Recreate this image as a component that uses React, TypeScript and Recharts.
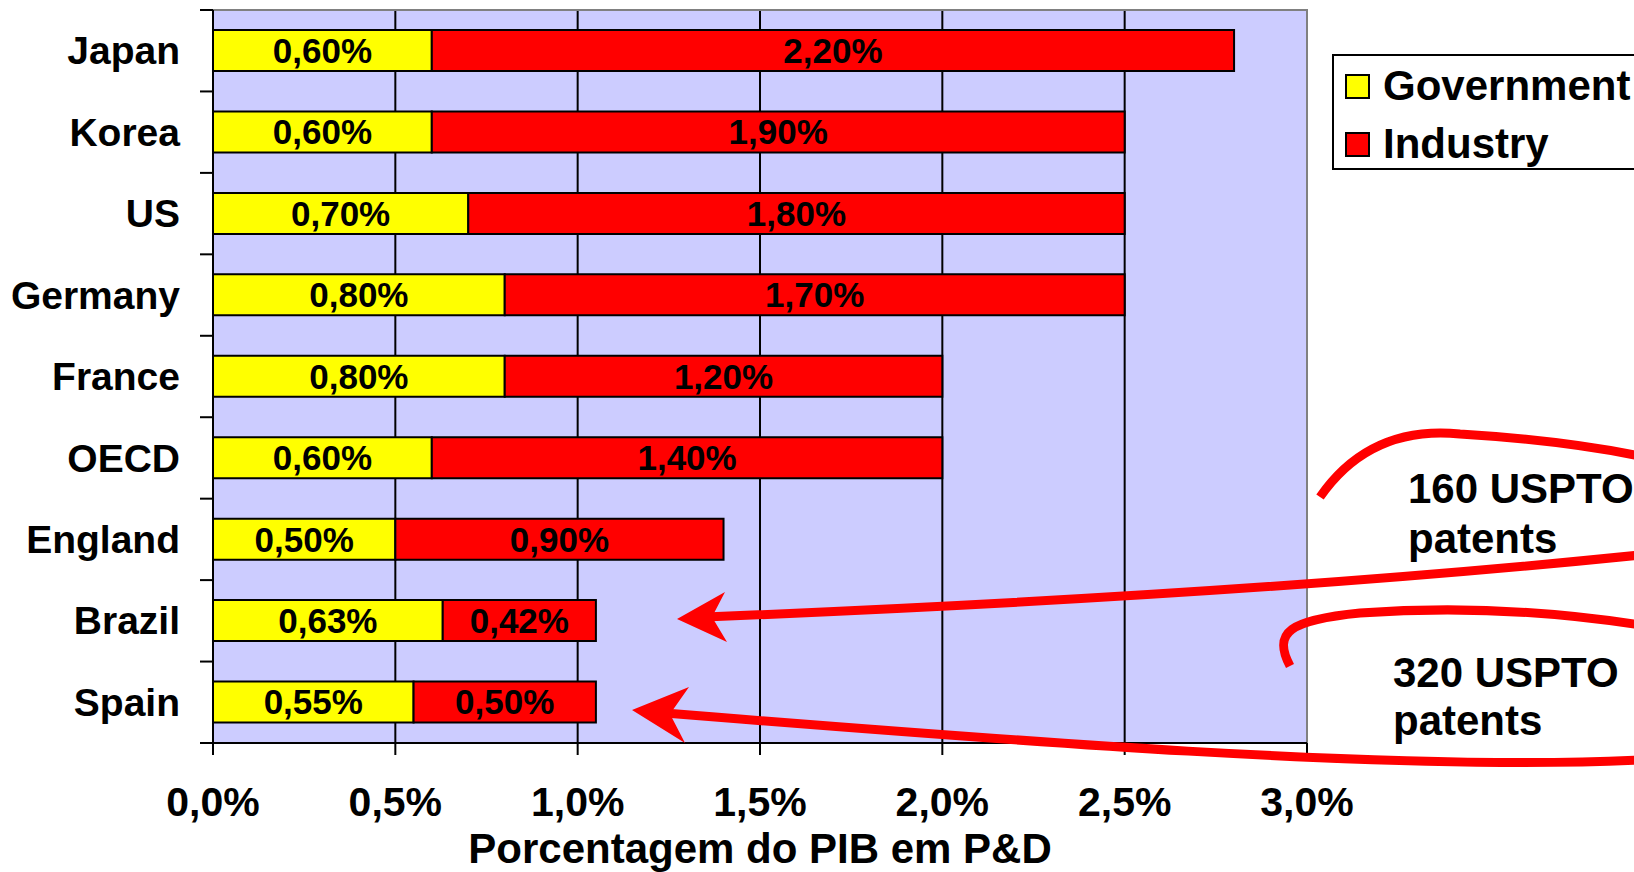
import React from 'react';
import { BarChart, Bar, XAxis, YAxis, CartesianGrid, Legend, LabelList, Label, ReferenceArea } from 'recharts';

const countries = ['Japan', 'Korea', 'US', 'Germany', 'France', 'OECD', 'England', 'Brazil', 'Spain'];
const government = [0.6, 0.6, 0.7, 0.8, 0.8, 0.6, 0.5, 0.63, 0.55];
const industry = [2.2, 1.9, 1.8, 1.7, 1.2, 1.4, 0.9, 0.42, 0.5];
const xTicks = [0, 0.5, 1, 1.5, 2, 2.5, 3];

const data = countries.map((country, i) => ({
  country,
  Government: government[i],
  Industry: industry[i],
}));

const FONT = "'Liberation Sans', Arial, sans-serif";
const TICK_LEN = 13;
const TICK_GAP = 20;

const pct2 = (v: number) => v.toFixed(2).replace('.', ',') + '%';
const pct1 = (v: number) => v.toFixed(1).replace('.', ',') + '%';

// category labels sit at band centres, tick marks at band boundaries (Excel style)
const CountryTick = (props: any) => {
  const { x, y, payload, index } = props;
  const half = payload.offset ?? 0;
  const axisX = x + TICK_GAP + TICK_LEN;
  const last = index === countries.length - 1;
  return (
    <g>
      <line x1={axisX - TICK_LEN} x2={axisX} y1={y - half} y2={y - half} stroke="#000" strokeWidth={2} />
      {last && <line x1={axisX - TICK_LEN} x2={axisX} y1={y + half} y2={y + half} stroke="#000" strokeWidth={2} />}
      <text x={x} y={y} dy="0.35em" textAnchor="end" fill="#000" fontSize={39} fontWeight="bold" fontFamily={FONT}>
        {payload.value}
      </text>
    </g>
  );
};

const LegendBox = (props: any) => {
  const { payload = [] } = props;
  return (
    <div
      style={{
        border: '2px solid #000',
        background: '#fff',
        height: 116,
        boxSizing: 'border-box',
        paddingRight: 40,
        fontFamily: FONT,
      }}
    >
      {payload.map((p: any) => (
        <div key={p.value} style={{ display: 'flex', alignItems: 'center', height: 58, marginTop: p.value === 'Government' ? 1 : 0 }}>
          <div style={{ width: 25, height: 25, boxSizing: 'border-box', border: '2px solid #000', background: p.color, marginLeft: 11 }} />
          <span style={{ marginLeft: 13, fontSize: 42, fontWeight: 'bold', color: '#000', whiteSpace: 'nowrap' }}>{p.value}</span>
        </div>
      ))}
    </div>
  );
};

const Annotations = () => (
  <svg width={1634} height={872} style={{ position: 'absolute', left: 0, top: 0, pointerEvents: 'none' }}>
    <g fill="none" stroke="#FF0000" strokeWidth={9} strokeLinecap="butt">
      <path d="M 1320 497 Q 1370 425 1460 434 Q 1560 440 1640 456" />
      <path d="M 705 617 Q 1250 595 1640 555" />
      <path d="M 1290 666 C 1272 632, 1290 620, 1360 613 Q 1500 603 1640 625" />
      <path d="M 665 713 C 1000 740, 1400 772, 1640 760" />
    </g>
    <g fill="#FF0000">
      <polygon points="677,619 725,592 712,617 727,642" />
      <polygon points="632,710 689,687 670,714 685,743" />
    </g>
    <g fill="#000" fontSize={42} fontWeight="bold" fontFamily={FONT}>
      <text x={1408} y={503}>160 USPTO</text>
      <text x={1408} y={553}>patents</text>
      <text x={1393} y={687}>320 USPTO</text>
      <text x={1393} y={735}>patents</text>
    </g>
  </svg>
);

export default function App() {
  return (
    <div style={{ position: 'absolute', left: 0, top: 0, width: 1634, height: 872, overflow: 'hidden', background: '#fff', fontFamily: FONT }}>
      <BarChart
        width={1634}
        height={872}
        data={data}
        layout="vertical"
        margin={{ top: 10, right: 327, bottom: 0, left: 0 }}
        barSize={41}
      >
        <CartesianGrid horizontal={false} stroke="#000" strokeWidth={2} fill="#CCCCFF" fillOpacity={1} />
        <ReferenceArea x1={0} x2={3} fill="none" stroke="#808080" strokeWidth={2} ifOverflow="visible" />
        <XAxis
          type="number"
          domain={[0, 3]}
          ticks={xTicks}
          tickFormatter={pct1}
          height={129}
          stroke="#000"
          strokeWidth={2}
          tickSize={12}
          tickMargin={32}
          tick={{ fill: '#000', fontSize: 41, fontWeight: 'bold', fontFamily: FONT }}
          interval={0}
        >
          <Label
            value="Porcentagem do PIB em P&D"
            position="insideBottom"
            offset={9}
            fill="#000"
            fontSize={42}
            fontWeight="bold"
            fontFamily={FONT}
          />
        </XAxis>
        <YAxis
          type="category"
          dataKey="country"
          width={213}
          stroke="#000"
          strokeWidth={2}
          tickLine={false}
          tickSize={0}
          tickMargin={TICK_GAP + TICK_LEN}
          tick={<CountryTick />}
          interval={0}
        />
        <Legend
          layout="horizontal"
          verticalAlign="middle"
          align="center"
          content={<LegendBox />}
          wrapperStyle={{ left: 1332, top: 54, width: 'auto' }}
        />
        <Bar dataKey="Government" stackId="a" fill="#FFFF00" stroke="#000" strokeWidth={2} isAnimationActive={false}>
          <LabelList dataKey="Government" position="center" formatter={pct2} fill="#000" fontSize={35} fontWeight="bold" fontFamily={FONT} />
        </Bar>
        <Bar dataKey="Industry" stackId="a" fill="#FF0000" stroke="#000" strokeWidth={2} isAnimationActive={false}>
          <LabelList dataKey="Industry" position="center" formatter={pct2} fill="#000" fontSize={35} fontWeight="bold" fontFamily={FONT} />
        </Bar>
      </BarChart>
      <Annotations />
    </div>
  );
}
